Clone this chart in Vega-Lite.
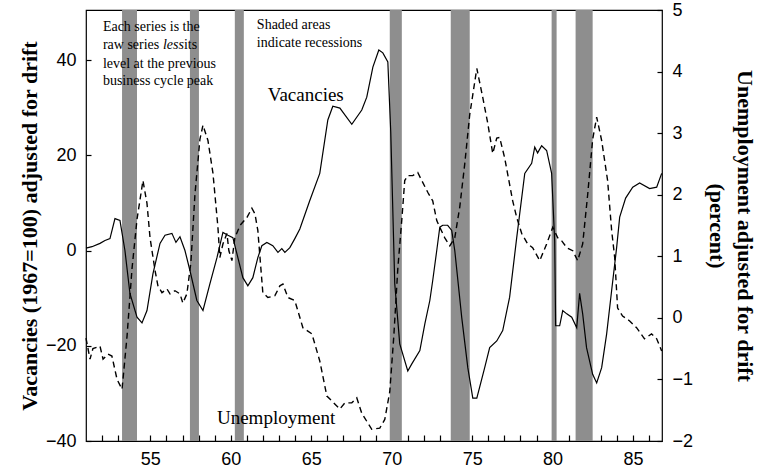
{
  "$schema": "https://vega.github.io/schema/vega-lite/v6.json",
  "width": 576,
  "height": 431,
  "autosize": "none",
  "padding": {"left": 86, "top": 10, "right": 120, "bottom": 34},
  "background": "white",
  "config": {
    "view": {"stroke": "black", "strokeWidth": 1.2},
    "axis": {
      "grid": false,
      "domain": false,
      "tickColor": "black",
      "tickWidth": 1.2,
      "labelColor": "black",
      "titleColor": "black",
      "labelFont": "Liberation Sans",
      "labelFontSize": 18,
      "titleFont": "Liberation Serif",
      "titleFontSize": 22,
      "titleFontWeight": "bold"
    }
  },
  "datasets": {
    "recessions": [
      {"year": 53.24, "year_end": 54.17},
      {"year": 57.46, "year_end": 58.02},
      {"year": 60.25, "year_end": 60.81},
      {"year": 69.88, "year_end": 70.63},
      {"year": 73.67, "year_end": 74.85},
      {"year": 79.94, "year_end": 80.25},
      {"year": 81.43, "year_end": 82.49}
    ],
    "vacancies": [
      {"year": 51.0, "v": 0.5}, {"year": 51.37, "v": 0.8}, {"year": 51.87, "v": 1.5}, {"year": 52.18, "v": 2.1},
      {"year": 52.49, "v": 2.5}, {"year": 52.8, "v": 6.7}, {"year": 53.11, "v": 6.3}, {"year": 53.42, "v": 0},
      {"year": 53.73, "v": -9}, {"year": 54.17, "v": -14}, {"year": 54.48, "v": -15.2}, {"year": 54.79, "v": -12.6},
      {"year": 55.16, "v": -4.9}, {"year": 55.6, "v": 1.5}, {"year": 55.91, "v": 3.2}, {"year": 56.34, "v": 3.6},
      {"year": 56.59, "v": 1.7}, {"year": 56.84, "v": 2.9}, {"year": 57.15, "v": 0}, {"year": 57.46, "v": -4.2},
      {"year": 57.89, "v": -10.5}, {"year": 58.27, "v": -12.6}, {"year": 58.7, "v": -7}, {"year": 59.14, "v": -1.5},
      {"year": 59.51, "v": 3.8}, {"year": 59.82, "v": 3.2}, {"year": 60.13, "v": 2.7}, {"year": 60.44, "v": -1.5},
      {"year": 60.75, "v": -5.7}, {"year": 61.06, "v": -7.4}, {"year": 61.37, "v": -5.7}, {"year": 61.68, "v": -1.5},
      {"year": 61.93, "v": 1.0}, {"year": 62.24, "v": 1.7}, {"year": 62.61, "v": 1.0}, {"year": 62.93, "v": -0.4},
      {"year": 63.17, "v": 0.4}, {"year": 63.36, "v": -0.4}, {"year": 63.67, "v": 0.6}, {"year": 63.98, "v": 2.5},
      {"year": 64.29, "v": 4.5}, {"year": 64.91, "v": 10.5}, {"year": 65.53, "v": 16.2}, {"year": 66.03, "v": 27.4},
      {"year": 66.34, "v": 30.3}, {"year": 66.78, "v": 29.9}, {"year": 67.52, "v": 26.5}, {"year": 68.14, "v": 29.5},
      {"year": 68.45, "v": 32.2}, {"year": 68.83, "v": 38.5}, {"year": 69.2, "v": 42.1}, {"year": 69.45, "v": 41.5},
      {"year": 69.76, "v": 39.6}, {"year": 69.94, "v": 25}, {"year": 70.19, "v": -7}, {"year": 70.5, "v": -19.6},
      {"year": 71.0, "v": -25.3}, {"year": 71.25, "v": -23.8}, {"year": 71.75, "v": -21}, {"year": 72.06, "v": -15.4},
      {"year": 72.37, "v": -10.5}, {"year": 72.55, "v": -6.3}, {"year": 72.8, "v": 0}, {"year": 72.99, "v": 4.9},
      {"year": 73.17, "v": 5.3}, {"year": 73.48, "v": 5.3}, {"year": 73.73, "v": 4.2}, {"year": 73.92, "v": 0},
      {"year": 74.35, "v": -14}, {"year": 74.73, "v": -24.6}, {"year": 75.04, "v": -31}, {"year": 75.29, "v": -31},
      {"year": 75.78, "v": -24.6}, {"year": 76.09, "v": -20.4}, {"year": 76.53, "v": -19}, {"year": 76.9, "v": -16.8},
      {"year": 77.33, "v": -9.8}, {"year": 77.77, "v": 2.7}, {"year": 78.27, "v": 16.2}, {"year": 78.7, "v": 18.3},
      {"year": 78.89, "v": 21.7}, {"year": 79.07, "v": 20.5}, {"year": 79.32, "v": 22}, {"year": 79.63, "v": 21},
      {"year": 79.94, "v": 16.2}, {"year": 80.13, "v": 2}, {"year": 80.19, "v": -15.8}, {"year": 80.44, "v": -15.8},
      {"year": 80.63, "v": -12.6}, {"year": 80.88, "v": -13.3}, {"year": 81.19, "v": -14}, {"year": 81.5, "v": -16.2},
      {"year": 81.68, "v": -9}, {"year": 81.87, "v": -13.3}, {"year": 82.11, "v": -20.4}, {"year": 82.49, "v": -26},
      {"year": 82.74, "v": -27.8}, {"year": 83.05, "v": -24.6}, {"year": 83.36, "v": -17.5}, {"year": 83.67, "v": -8.4},
      {"year": 83.98, "v": 0.6}, {"year": 84.17, "v": 7}, {"year": 84.54, "v": 11}, {"year": 84.98, "v": 13.3},
      {"year": 85.41, "v": 14.2}, {"year": 86.03, "v": 13}, {"year": 86.47, "v": 13.3}, {"year": 86.78, "v": 16.2}
    ],
    "unemployment": [
      {"year": 51.0, "u": -0.33}, {"year": 51.25, "u": -0.67}, {"year": 51.43, "u": -0.5}, {"year": 51.87, "u": -0.46},
      {"year": 52.06, "u": -0.67}, {"year": 52.37, "u": -0.59}, {"year": 52.61, "u": -0.62}, {"year": 52.93, "u": -1.0},
      {"year": 53.24, "u": -1.16}, {"year": 53.55, "u": -0.3}, {"year": 53.86, "u": 0.8}, {"year": 54.17, "u": 1.6},
      {"year": 54.54, "u": 2.23}, {"year": 54.79, "u": 1.86}, {"year": 54.98, "u": 1.3}, {"year": 55.29, "u": 0.77},
      {"year": 55.47, "u": 0.52}, {"year": 55.72, "u": 0.41}, {"year": 56.03, "u": 0.47}, {"year": 56.22, "u": 0.39},
      {"year": 56.53, "u": 0.44}, {"year": 56.84, "u": 0.39}, {"year": 57.02, "u": 0.24}, {"year": 57.27, "u": 0.39},
      {"year": 57.52, "u": 0.9}, {"year": 57.77, "u": 2.0}, {"year": 58.08, "u": 2.9}, {"year": 58.27, "u": 3.13},
      {"year": 58.58, "u": 2.88}, {"year": 58.89, "u": 2.35}, {"year": 59.2, "u": 1.47}, {"year": 59.32, "u": 0.98},
      {"year": 59.51, "u": 1.2}, {"year": 59.76, "u": 1.37}, {"year": 59.88, "u": 1.09}, {"year": 60.07, "u": 0.93},
      {"year": 60.25, "u": 1.3}, {"year": 60.57, "u": 1.5}, {"year": 61.0, "u": 1.63}, {"year": 61.31, "u": 1.78},
      {"year": 61.5, "u": 1.69}, {"year": 61.68, "u": 1.42}, {"year": 61.99, "u": 0.41}, {"year": 62.3, "u": 0.33},
      {"year": 62.74, "u": 0.36}, {"year": 63.05, "u": 0.52}, {"year": 63.24, "u": 0.55}, {"year": 63.55, "u": 0.33},
      {"year": 63.98, "u": 0.28}, {"year": 64.48, "u": -0.16}, {"year": 65.04, "u": -0.26}, {"year": 65.53, "u": -0.7},
      {"year": 65.97, "u": -1.27}, {"year": 66.78, "u": -1.48}, {"year": 67.09, "u": -1.38}, {"year": 67.52, "u": -1.38},
      {"year": 67.83, "u": -1.3}, {"year": 68.14, "u": -1.55}, {"year": 68.76, "u": -1.81}, {"year": 69.26, "u": -1.79},
      {"year": 69.57, "u": -1.65}, {"year": 69.88, "u": -1.2}, {"year": 70.13, "u": -0.3}, {"year": 70.38, "u": 0.8},
      {"year": 70.63, "u": 1.6}, {"year": 70.81, "u": 2.23}, {"year": 71.0, "u": 2.31}, {"year": 71.31, "u": 2.31},
      {"year": 71.62, "u": 2.36}, {"year": 71.87, "u": 2.23}, {"year": 72.24, "u": 2.04}, {"year": 72.55, "u": 1.9},
      {"year": 72.8, "u": 1.58}, {"year": 72.99, "u": 1.47}, {"year": 73.3, "u": 1.3}, {"year": 73.61, "u": 1.17},
      {"year": 73.92, "u": 1.3}, {"year": 74.23, "u": 1.8}, {"year": 74.54, "u": 2.5}, {"year": 74.85, "u": 3.3},
      {"year": 75.29, "u": 4.05}, {"year": 75.66, "u": 3.58}, {"year": 75.97, "u": 3.16}, {"year": 76.28, "u": 2.67},
      {"year": 76.53, "u": 2.92}, {"year": 76.71, "u": 2.93}, {"year": 77.02, "u": 2.6}, {"year": 77.52, "u": 1.9},
      {"year": 77.77, "u": 1.63}, {"year": 78.08, "u": 1.37}, {"year": 78.45, "u": 1.2}, {"year": 78.76, "u": 1.14},
      {"year": 79.2, "u": 0.93}, {"year": 79.63, "u": 1.2}, {"year": 80.01, "u": 1.47}, {"year": 80.32, "u": 1.3},
      {"year": 80.57, "u": 1.25}, {"year": 80.88, "u": 1.14}, {"year": 81.25, "u": 1.09}, {"year": 81.56, "u": 0.93},
      {"year": 81.87, "u": 1.2}, {"year": 82.18, "u": 2.0}, {"year": 82.49, "u": 2.9}, {"year": 82.74, "u": 3.26},
      {"year": 83.05, "u": 2.88}, {"year": 83.42, "u": 2.23}, {"year": 83.67, "u": 1.42}, {"year": 83.86, "u": 0.98},
      {"year": 84.04, "u": 0.16}, {"year": 84.35, "u": 0.03}, {"year": 84.79, "u": -0.05}, {"year": 85.22, "u": -0.16},
      {"year": 85.71, "u": -0.34}, {"year": 86.15, "u": -0.26}, {"year": 86.47, "u": -0.34}, {"year": 86.78, "u": -0.54}
    ],
    "notes": [
      {"year": 52.05, "v": 46.95, "text": "Each series is the"},
      {"year": 52.05, "v": 43.16, "text": "raw series"},
      {"year": 57.09, "v": 43.16, "text": " its"},
      {"year": 52.05, "v": 39.16, "text": "level at the previous"},
      {"year": 52.05, "v": 35.58, "text": "business cycle peak"},
      {"year": 61.62, "v": 47.37, "text": "Shaded areas"},
      {"year": 61.62, "v": 43.58, "text": "indicate recessions"}
    ],
    "italicNote": [
      {"year": 55.78, "v": 43.16, "text": "less"}
    ],
    "seriesLabels": [
      {"year": 62.3, "v": 32.6, "text": "Vacancies"},
      {"year": 59.14, "v": -35.16, "text": "Unemployment"}
    ]
  },
  "encoding": {
    "x": {
      "field": "year", "type": "quantitative",
      "scale": {"domain": [51, 86.8], "nice": false, "zero": false},
      "axis": {
        "title": null,
        "values": [52, 53, 54, 55, 56, 57, 58, 59, 60, 61, 62, 63, 64, 65, 66, 67, 68, 69, 70, 71, 72, 73, 74, 75, 76, 77, 78, 79, 80, 81, 82, 83, 84, 85, 86],
        "labelExpr": "datum.value % 5 === 0 ? datum.label : ''",
        "offset": -6,
        "tickSize": 6,
        "labelPadding": 9,
        "labelFlush": false,
        "labelOverlap": false
      }
    }
  },
  "layer": [
    {
      "data": {"name": "recessions"},
      "mark": {"type": "rect", "fill": "#8e8e8e"},
      "encoding": {
        "x2": {"field": "year_end"}
      }
    },
    {
      "data": {"name": "vacancies"},
      "mark": {"type": "line", "color": "black", "strokeWidth": 1.2},
      "encoding": {
        "y": {
          "field": "v", "type": "quantitative",
          "scale": {"domain": [-40, 50.5], "nice": false, "zero": false},
          "axis": {
            "title": "Vacancies (1967=100) adjusted for drift",
            "values": [-40, -20, 0, 20, 40],
            "offset": -5,
            "tickSize": 5,
            "labelPadding": 10,
            "titlePadding": 4
          }
        }
      }
    },
    {
      "data": {"name": "unemployment"},
      "mark": {"type": "line", "color": "black", "strokeWidth": 1.4, "strokeDash": [6, 4]},
      "encoding": {
        "y": {
          "field": "u", "type": "quantitative",
          "scale": {"domain": [-2, 5], "nice": false, "zero": false},
          "axis": {
            "orient": "right",
            "title": ["Unemployment adjusted for drift", "(percent)"],
            "titleAngle": 90,
            "titleLineHeight": 28,
            "values": [-2, -1, 0, 1, 2, 3, 4, 5],
            "offset": -5,
            "tickSize": 5,
            "labelPadding": 10,
            "titlePadding": 12
          }
        }
      }
    },
    {
      "data": {"name": "notes"},
      "mark": {"type": "text", "align": "left", "baseline": "middle", "font": "Liberation Serif", "fontSize": 14, "color": "black"},
      "encoding": {
        "y": {"field": "v", "type": "quantitative", "scale": {"domain": [-40, 50.5], "nice": false, "zero": false}, "axis": null},
        "text": {"field": "text"}
      }
    },
    {
      "data": {"name": "italicNote"},
      "mark": {"type": "text", "align": "left", "baseline": "middle", "font": "Liberation Serif", "fontSize": 14, "fontStyle": "italic", "color": "black"},
      "encoding": {
        "y": {"field": "v", "type": "quantitative", "scale": {"domain": [-40, 50.5], "nice": false, "zero": false}, "axis": null},
        "text": {"field": "text"}
      }
    },
    {
      "data": {"name": "seriesLabels"},
      "mark": {"type": "text", "align": "left", "baseline": "middle", "font": "Liberation Serif", "fontSize": 19, "color": "black"},
      "encoding": {
        "y": {"field": "v", "type": "quantitative", "scale": {"domain": [-40, 50.5], "nice": false, "zero": false}, "axis": null},
        "text": {"field": "text"}
      }
    }
  ],
  "resolve": {"scale": {"y": "independent"}}
}
